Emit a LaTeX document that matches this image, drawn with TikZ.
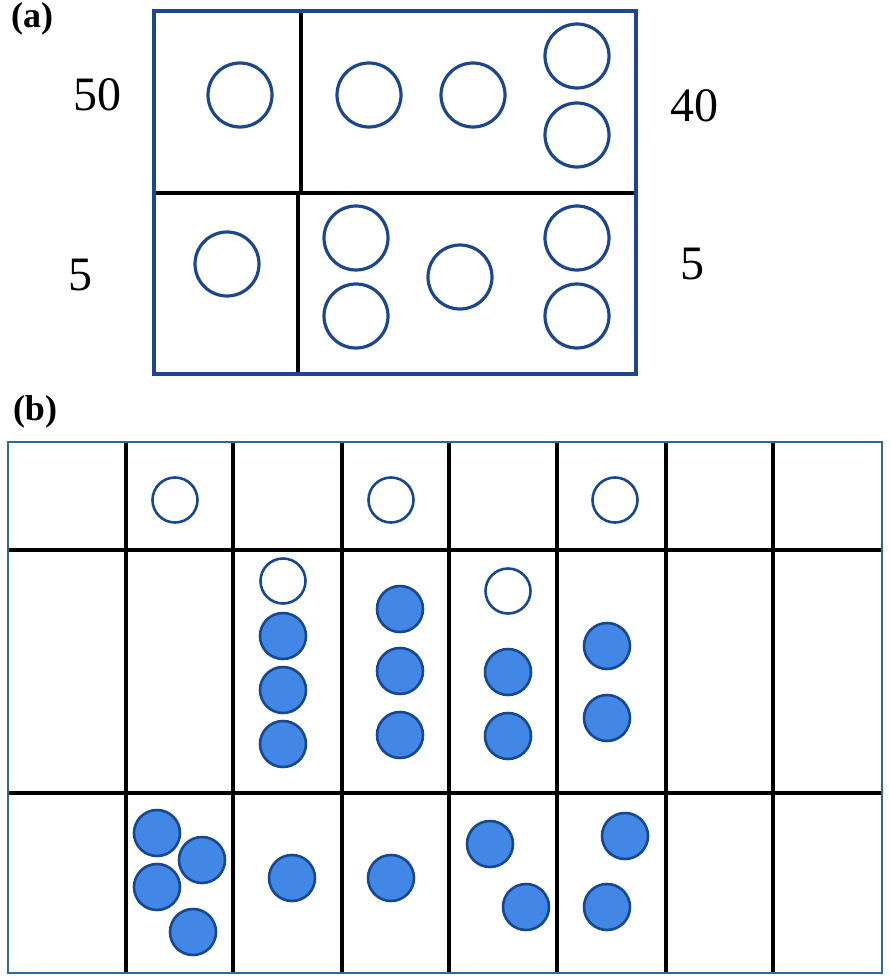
\documentclass[tikz,border=0pt]{standalone}
\usepackage{fontspec}
\setmainfont{Liberation Serif}
\definecolor{ablue}{RGB}{28,70,142}
\definecolor{bedge}{RGB}{46,104,160}
\definecolor{bline}{RGB}{22,72,146}
\definecolor{bfill}{RGB}{66,135,230}

\begin{document}
\begin{tikzpicture}[x=1pt,y=-1pt,
    frame/.style={draw=ablue,line width=3.5pt},
    divider/.style={draw=black,line width=3.5pt},
    acirc/.style={circle,draw=ablue,line width=3.2pt,minimum size=64pt,inner sep=0pt},
    bframe/.style={draw=bedge,line width=2.6pt},
    bdiv/.style={draw=black,line width=3.2pt},
    bopen/.style={circle,draw=bline,line width=2.6pt,fill=white,minimum size=45pt,inner sep=0pt},
    bfull/.style={circle,draw=bline,line width=2.6pt,fill=bfill,minimum size=46pt,inner sep=0pt},
    num/.style={font=\fontsize{48}{56}\selectfont},
    tag/.style={font=\fontsize{36}{42}\selectfont\bfseries}]
\useasboundingbox (0,0) rectangle (889,979);

% (a)
\node[tag] (taga) at (32,19) {(a)};
\draw[divider] (154,193) -- (636,193);
\draw[divider] (301,11) -- (301,193);
\draw[divider] (298,193) -- (298,374);
\draw[frame] (154,11) rectangle (636,374);
\foreach \x/\y [count=\i] in {240/95, 369/95, 473/95, 577/56, 577/135,
    227/264, 356/238, 356/316, 460/277, 577/238, 577/316}
  \node[acirc] (ca\i) at (\x,\y) {};
\node[num] (n50) at (97,95) {50};
\node[num] (n40) at (694,106) {40};
\node[num] (n5l) at (80,275) {5};
\node[num] (n5r) at (692,264) {5};

% (b)
\node[tag] (tagb) at (35,412) {(b)};
\foreach \x in {126,233,342,449,557,666,773}
  \draw[bdiv] (\x,442) -- (\x,973);
\foreach \y in {550,793}
  \draw[bdiv] (8,\y) -- (882,\y);
\draw[bframe] (8,442) rectangle (882,973);
\foreach \x/\y [count=\i] in {175/500, 391/500, 615/500, 283/581, 508/591}
  \node[bopen] (co\i) at (\x,\y) {};
\foreach \x/\y [count=\i] in {283/636, 283/690, 283/744, 400/609, 400/671, 400/735,
    508/672, 508/736, 607/646, 607/718,
    157/833, 202/860, 157/887, 193/932, 292/878, 391/878,
    490/844, 526/907, 625/836, 607/907}
  \node[bfull] (cf\i) at (\x,\y) {};
\end{tikzpicture}
\end{document}
